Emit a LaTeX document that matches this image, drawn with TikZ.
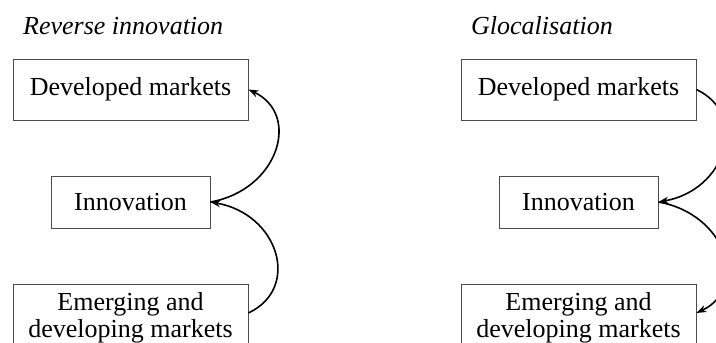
\documentclass[tikz,border=0pt]{standalone}
\usepackage{fontspec}
\setmainfont{Liberation Serif}
\usetikzlibrary{arrows.meta}
\begin{document}
\begin{tikzpicture}[x=1pt,y=-1pt,
  box/.style={draw=black!70,line width=0.8pt,align=center,inner sep=0pt,
    font=\fontsize{26}{27.5}\selectfont},
  ttl/.style={anchor=base west,inner sep=0pt,font=\fontsize{26}{30}\selectfont\itshape},
  arr/.style={-{Stealth[length=10pt,width=7pt,inset=3pt]},line width=1.6pt,black}]
\clip (0,0) rectangle (716,343);
\fill[white] (0,0) rectangle (716,343);
% left panel
\node[ttl] (tL) at (23,34) {Reverse innovation};
\node[box,minimum width=235pt,minimum height=61pt] (devL) at (130.5,89.5) {Developed markets};
\node[box,minimum width=159pt,minimum height=52pt] (innL) at (130.5,202) {Innovation};
\node[box,minimum width=235pt,minimum height=68pt] (emgL) at (130.5,318) {Emerging and\\developing markets};
\coordinate (eL) at ([yshift=5pt]emgL.east);
\draw[arr] (innL.east) .. controls +(68,-12) and +(53,25) .. (devL.east);
\draw[arr] (eL) .. controls +(53,-25) and +(68,12) .. (innL.east);
% right panel
\node[ttl] (tR) at (471,34) {Glocalisation};
\node[box,minimum width=235pt,minimum height=61pt] (devR) at (578.5,89.5) {Developed markets};
\node[box,minimum width=159pt,minimum height=52pt] (innR) at (578.5,202) {Innovation};
\node[box,minimum width=235pt,minimum height=68pt] (emgR) at (578.5,318) {Emerging and\\developing markets};
\coordinate (eR) at ([yshift=5pt]emgR.east);
\draw[arr] (devR.east) .. controls +(53,25) and +(68,-12) .. (innR.east);
\draw[arr] (innR.east) .. controls +(68,12) and +(53,-25) .. (eR);
\end{tikzpicture}
\end{document}
